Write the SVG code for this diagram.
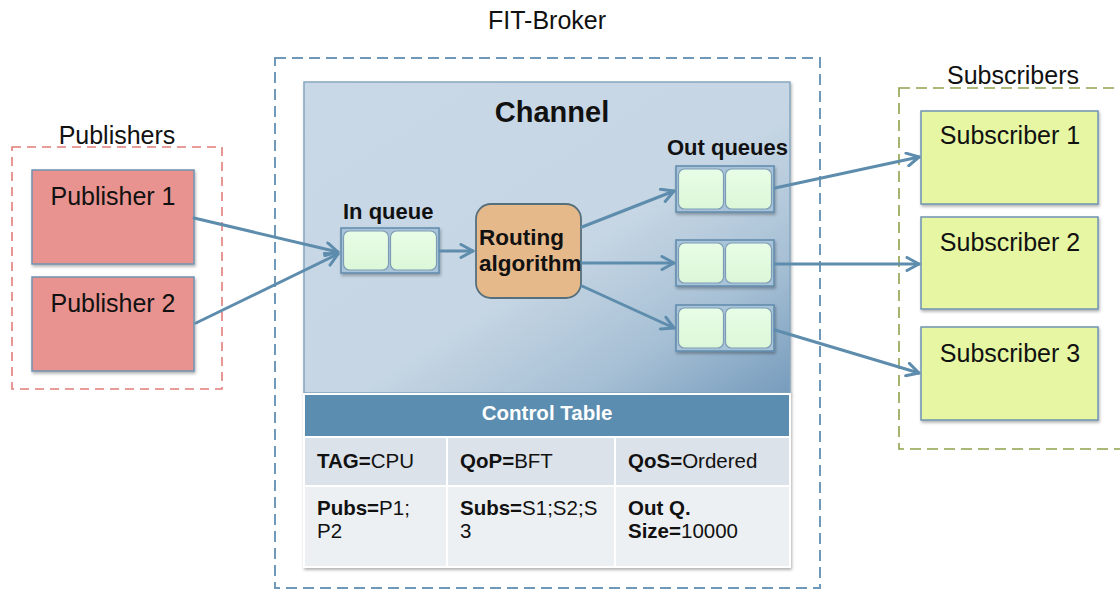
<svg xmlns="http://www.w3.org/2000/svg" width="1120" height="592" viewBox="0 0 1120 592">
  <style>
    .lbl { font-family: "Liberation Sans", Arial, sans-serif; fill: #111; }
    .big { font-size: 25px; }
    .bold { font-weight: bold; }
    .pub { fill: #e8938f; stroke: #6f93b2; stroke-width: 1.5; }
    .sub { fill: #e6f6a2; stroke: #6f93b2; stroke-width: 1.5; }
    .frame { fill: #a9c3d8; stroke: #5f8bac; stroke-width: 1.5; }
    .cell { fill: url(#cellFill); stroke: #7d9db6; stroke-width: 1.2; }
    .conn { stroke: #5e8cad; stroke-width: 3; fill: none; stroke-linecap: round; marker-end: url(#arrow); }
    .tcell { font-family: "Liberation Sans", Arial, sans-serif; font-size: 20.5px; fill: #111; }
  </style>
  <defs>
    <linearGradient id="chanFill" x1="0" y1="0" x2="1" y2="1">
      <stop offset="0" stop-color="#c9d8e6"/>
      <stop offset="0.55" stop-color="#c6d6e4"/>
      <stop offset="0.78" stop-color="#a7c0d5"/>
      <stop offset="1" stop-color="#779cbd"/>
    </linearGradient>
    <linearGradient id="cellFill" x1="0" y1="0" x2="0" y2="1">
      <stop offset="0" stop-color="#e8fde6"/>
      <stop offset="1" stop-color="#dcf7d8"/>
    </linearGradient>
    <filter id="shadow" x="-10%" y="-10%" width="130%" height="130%">
      <feDropShadow dx="1" dy="2" stdDeviation="1.5" flood-color="#000" flood-opacity="0.3"/>
    </filter>
    <filter id="soft" x="-5%" y="-5%" width="110%" height="110%">
      <feGaussianBlur stdDeviation="0.6"/>
    </filter>
    <marker id="arrow" viewBox="0 0 16 16" refX="14" refY="8" markerWidth="16" markerHeight="16" markerUnits="userSpaceOnUse" orient="auto">
      <path d="M2,1.5 L14,8 L2,14.5" fill="none" stroke="#5e8cad" stroke-width="3" stroke-linecap="round" stroke-linejoin="round"/>
    </marker>
  </defs>

  <rect width="1120" height="592" fill="#ffffff"/>

  <!-- Publishers group -->
  <g id="publishers">
    <rect x="12" y="147" width="210" height="242" fill="none" stroke="#e27e7a" stroke-width="1.6" stroke-dasharray="9 6" filter="url(#soft)"/>
    <text class="lbl big" x="117" y="144" text-anchor="middle">Publishers</text>
  </g>
  <g id="publisher1">
    <rect class="pub" x="32" y="170" width="162" height="94" filter="url(#shadow)"/>
    <text class="lbl big" x="113" y="205" text-anchor="middle">Publisher 1</text>
  </g>
  <g id="publisher2">
    <rect class="pub" x="32" y="277" width="162" height="94" filter="url(#shadow)"/>
    <text class="lbl big" x="113" y="312" text-anchor="middle">Publisher 2</text>
  </g>

  <!-- FIT-Broker group -->
  <g id="fit-broker">
    <rect x="275" y="58" width="545" height="530" fill="none" stroke="#6f98b8" stroke-width="2" stroke-dasharray="11 6" filter="url(#soft)"/>
    <text class="lbl big" x="547" y="29" text-anchor="middle">FIT-Broker</text>
  </g>

  <!-- Channel -->
  <g id="channel">
    <rect x="304" y="82" width="486" height="311" fill="url(#chanFill)" stroke="#86a6be" stroke-width="1.5" filter="url(#shadow)"/>
    <text class="lbl bold" x="552" y="122" font-size="29" text-anchor="middle">Channel</text>
  </g>

  <!-- In queue -->
  <g id="in-queue">
    <text class="lbl bold" x="343" y="219" font-size="22">In queue</text>
    <rect class="frame" x="341" y="228" width="98" height="45" filter="url(#shadow)"/>
    <rect class="cell" x="343.5" y="231" width="45" height="39" rx="6"/>
    <rect class="cell" x="390.5" y="231" width="46" height="39" rx="6"/>
  </g>

  <!-- Routing algorithm -->
  <g id="routing">
    <rect x="476" y="204" width="105" height="94" rx="15" fill="#e6b98b" stroke="#566f7d" stroke-width="1.8"/>
    <text class="lbl bold" x="479" y="245" font-size="22.5">Routing</text>
    <text class="lbl bold" x="479" y="271" font-size="22.5">algorithm</text>
  </g>

  <!-- Out queues -->
  <g id="out-queues-label">
    <text class="lbl bold" x="667" y="155" font-size="22">Out queues</text>
  </g>
  <g id="out-queue1">
    <rect class="frame" x="676" y="166" width="98" height="46" filter="url(#shadow)"/>
    <rect class="cell" x="678.5" y="169" width="45" height="40" rx="6"/>
    <rect class="cell" x="725.5" y="169" width="46" height="40" rx="6"/>
  </g>
  <g id="out-queue2">
    <rect class="frame" x="676" y="240" width="98" height="46" filter="url(#shadow)"/>
    <rect class="cell" x="678.5" y="243" width="45" height="40" rx="6"/>
    <rect class="cell" x="725.5" y="243" width="46" height="40" rx="6"/>
  </g>
  <g id="out-queue3">
    <rect class="frame" x="676" y="305" width="98" height="46" filter="url(#shadow)"/>
    <rect class="cell" x="678.5" y="308" width="45" height="40" rx="6"/>
    <rect class="cell" x="725.5" y="308" width="46" height="40" rx="6"/>
  </g>

  <!-- Control table -->
  <g id="control-table">
    <rect x="303" y="393" width="488" height="175" fill="#ffffff" filter="url(#shadow)"/>
    <rect x="305" y="395" width="484" height="41" fill="#5b8db0"/>
    <text x="547" y="420" font-family="Liberation Sans, Arial, sans-serif" font-size="20.5" font-weight="bold" fill="#ffffff" text-anchor="middle">Control Table</text>
    <rect x="305" y="438" width="141" height="47" fill="#dce2e9"/>
    <rect x="448" y="438" width="166" height="47" fill="#dce2e9"/>
    <rect x="616" y="438" width="173" height="47" fill="#dce2e9"/>
    <rect x="305" y="487" width="141" height="79" fill="#edf0f3"/>
    <rect x="448" y="487" width="166" height="79" fill="#edf0f3"/>
    <rect x="616" y="487" width="173" height="79" fill="#edf0f3"/>
    <text class="tcell" x="317" y="468"><tspan font-weight="bold">TAG=</tspan>CPU</text>
    <text class="tcell" x="460" y="468"><tspan font-weight="bold">QoP=</tspan>BFT</text>
    <text class="tcell" x="628" y="468"><tspan font-weight="bold">QoS=</tspan>Ordered</text>
    <text class="tcell" x="317" y="515"><tspan font-weight="bold">Pubs=</tspan>P1;</text>
    <text class="tcell" x="317" y="538">P2</text>
    <text class="tcell" x="460" y="515"><tspan font-weight="bold">Subs=</tspan>S1;S2;S</text>
    <text class="tcell" x="460" y="538">3</text>
    <text class="tcell" x="628" y="515" font-weight="bold">Out Q.</text>
    <text class="tcell" x="628" y="538"><tspan font-weight="bold">Size=</tspan>10000</text>
  </g>

  <!-- Subscribers group -->
  <g id="subscribers">
    <rect x="899" y="88" width="230" height="361" fill="none" stroke="#8ea24c" stroke-width="1.6" stroke-dasharray="11 6" filter="url(#soft)"/>
    <text class="lbl big" x="1013" y="84" text-anchor="middle">Subscribers</text>
  </g>
  <g id="subscriber1">
    <rect class="sub" x="921" y="111" width="177" height="93" filter="url(#shadow)"/>
    <text class="lbl big" x="1010" y="144" text-anchor="middle">Subscriber 1</text>
  </g>
  <g id="subscriber2">
    <rect class="sub" x="921" y="217" width="177" height="92" filter="url(#shadow)"/>
    <text class="lbl big" x="1010" y="251" text-anchor="middle">Subscriber 2</text>
  </g>
  <g id="subscriber3">
    <rect class="sub" x="921" y="327" width="177" height="93" filter="url(#shadow)"/>
    <text class="lbl big" x="1010" y="362" text-anchor="middle">Subscriber 3</text>
  </g>

  <!-- Connectors -->
  <g id="connectors">
    <path class="conn" d="M194,218 L338,252"/>
    <path class="conn" d="M196,323 L338,254"/>
    <path class="conn" d="M440,251 L473,251"/>
    <path class="conn" d="M582,227 L674,191"/>
    <path class="conn" d="M582,263 L674,263"/>
    <path class="conn" d="M582,286 L674,328"/>
    <path class="conn" d="M775,188 L919,157"/>
    <path class="conn" d="M775,264 L919,264"/>
    <path class="conn" d="M775,330 L919,373"/>
  </g>
</svg>
